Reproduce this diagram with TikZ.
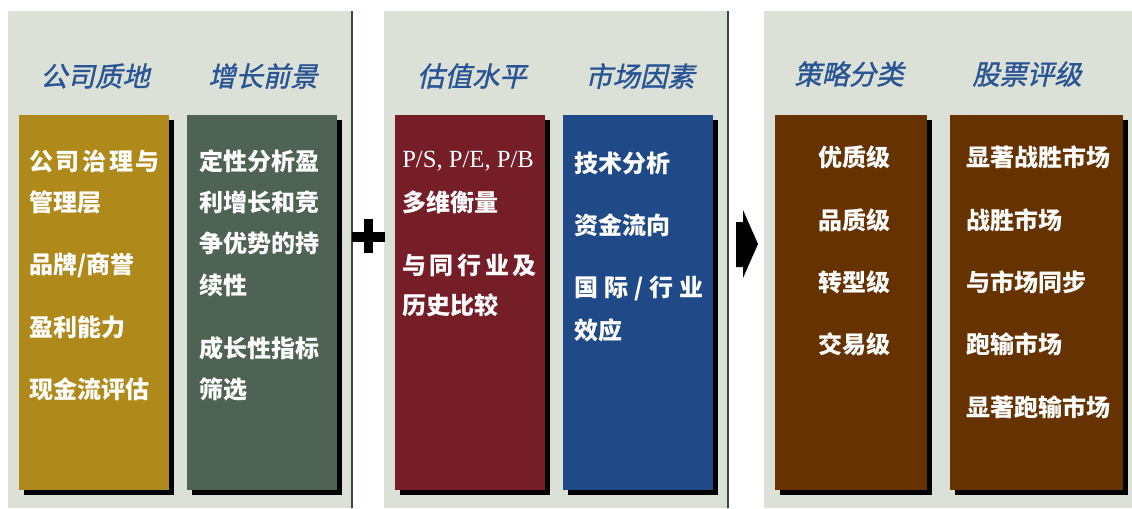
\documentclass[tikz,border=0pt]{standalone}
\usepackage{fontspec}
\usetikzlibrary{shadows}
\newfontfamily\cjk{Noto Sans CJK SC}
\newfontfamily\cjkit[FakeSlant=0.22,FakeBold=1.3]{Noto Sans CJK SC}
\newfontfamily\serifla{Liberation Serif}
\definecolor{panelbg}{HTML}{DCE1D8}
\definecolor{edgecol}{HTML}{364A3A}
\definecolor{goldc}{HTML}{B0891B}
\definecolor{greenc}{HTML}{4E6354}
\definecolor{redc}{HTML}{761E28}
\definecolor{bluec}{HTML}{204A87}
\definecolor{brownc}{HTML}{653200}
\definecolor{titlec}{HTML}{2A5595}
\tikzset{
  colbox/.style={draw=none, inner sep=0pt, minimum height=281.25pt,
    general shadow={fill=black, shadow xshift=3.75pt, shadow yshift=-3.75pt}},
  ttl/.style={text=titlec, inner sep=0pt, font=\cjkit\fontsize{20.5}{20.5}\selectfont},
  item/.style={text=white, inner sep=0pt, anchor=west, font=\cjk\bfseries\fontsize{18}{18}\selectfont},
  citem/.style={text=white, inner sep=0pt, anchor=center, font=\cjk\bfseries\fontsize{18}{18}\selectfont},
}
\begin{document}
\begin{tikzpicture}[x=0.75pt,y=-0.75pt]
\useasboundingbox (0,0) rectangle (1132,508);
\fill[white] (0,0) rectangle (1132,508);
% panels
\fill[panelbg] (8,11) rectangle (351,508);
\fill[edgecol] (350.5,11) rectangle (352.5,508);
\fill[panelbg] (384,11) rectangle (728,508);
\fill[edgecol] (727,11) rectangle (729,508);
\fill[panelbg] (764,11) rectangle (1132,508);
% boxes
\node[colbox, fill=goldc, minimum width=112.5pt] (b1) at (94,302.5) {};
\node[colbox, fill=greenc, minimum width=112.5pt] (b2) at (262,302.5) {};
\node[colbox, fill=redc, minimum width=112.5pt] (b3) at (470,302.5) {};
\node[colbox, fill=bluec, minimum width=112.5pt] (b4) at (638,302.5) {};
\node[colbox, fill=brownc, minimum width=114pt] (b5) at (851,302.5) {};
\node[colbox, fill=brownc, minimum width=129.75pt] (b6) at (1036.5,302.5) {};
% titles
\node[ttl] (t1) at (95,76) {公司质地};
\node[ttl] (t2) at (263,76) {增长前景};
\node[ttl] (t3) at (472,76) {估值水平};
\node[ttl] (t4) at (640,76) {市场因素};
\node[ttl] (t5) at (849,74) {策略分类};
\node[ttl] (t6) at (1027,74) {股票评级};
% box 1
\node[item] (i11) at (29,161) {\makebox[98pt][l]{公\hfill 司\hfill 治\hfill 理\hfill 与}};
\node[item] (i12) at (29,202) {管理层};
\node[item] (i13) at (29,265) {品牌/商誉};
\node[item] (i14) at (29,327) {盈利能力};
\node[item] (i15) at (29,389) {现金流评估};
% box 2
\node[item] (i21) at (199,161) {定性分析盈};
\node[item] (i22) at (199,202) {利增长和竞};
\node[item] (i23) at (199,243) {争优势的持};
\node[item] (i24) at (199,285) {续性};
\node[item] (i25) at (199,348) {成长性指标};
\node[item] (i26) at (199,389) {筛选};
% box 3
\node[item, font=\serifla\fontsize{18.5}{18.5}\selectfont] (i31) at (402,161) {P/S, P/E, P/B};
\node[item] (i32) at (402,202) {多维衡量};
\node[item] (i33) at (402,265) {\makebox[101pt][l]{与\hfill 同\hfill 行\hfill 业\hfill 及}};
\node[item] (i34) at (402,305) {历史比较};
% box 4
\node[item] (i41) at (574,163) {技术分析};
\node[item] (i42) at (574,225) {资金流向};
\node[item] (i43) at (574,288) {\makebox[97pt][l]{国\hfill 际\hfill /\hfill 行\hfill 业}};
\node[item] (i44) at (574,330) {效应};
% box 5
\node[citem] (i51) at (854,157) {优质级};
\node[citem] (i52) at (854,220) {品质级};
\node[citem] (i53) at (854,282) {转型级};
\node[citem] (i54) at (854,344) {交易级};
% box 6
\node[item] (i61) at (966,157) {显著战胜市场};
\node[item] (i62) at (966,220) {战胜市场};
\node[item] (i63) at (966,282) {与市场同步};
\node[item] (i64) at (966,344) {跑输市场};
\node[item] (i65) at (966,407) {显著跑输市场};
% plus
\fill[black] (352,232) rectangle (385,242);
\fill[black] (364,219) rectangle (373,253);
% arrow
\fill[black] (736,222) -- (743,222) -- (743,210) -- (758,244) -- (743,278) -- (743,267) -- (736,267) -- cycle;
\end{tikzpicture}
\end{document}
